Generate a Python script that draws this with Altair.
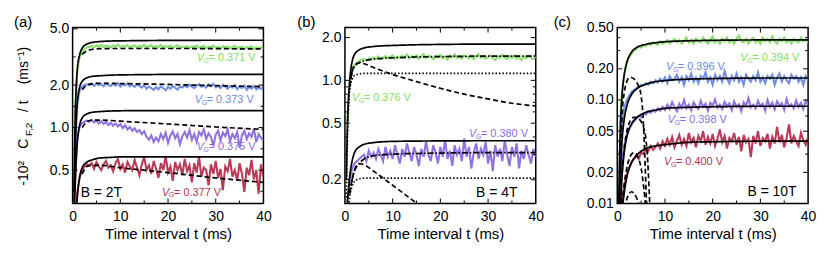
import altair as alt
import pandas as pd

W, H = 192, 177
FONT = "Liberation Sans"

GREEN = "#80de62"
BLUE = "#6b88e0"
PURPLE = "#8a6ce2"
RED = "#b5304f"

# time grids (ms)
TD = [0.5, 1.0, 1.5, 2.0, 2.5, 3.0, 3.5] + [4 + 0.5 * i for i in range(73)]
TF = [0.3, 0.5, 0.75, 1, 1.5, 2, 3, 4, 6, 8, 10, 15, 20, 30, 40]

# ---------------- panel (a) B = 2T ----------------
A_G = [1.2, 2.6, 3.2, 3.45, 3.6, 3.7, 3.72,
       3.78, 3.70, 3.82, 3.74, 3.85, 3.72, 3.80, 3.76, 3.69, 3.83,
       3.75, 3.88, 3.71, 3.79, 3.73, 3.84, 3.70, 3.77, 3.81, 3.68,
       3.79, 3.73, 3.86, 3.70, 3.76, 3.82, 3.67, 3.78, 3.72, 3.84,
       3.69, 3.77, 3.71, 3.80, 3.66, 3.75, 3.83, 3.70, 3.74, 3.68,
       3.79, 3.65, 3.76, 3.71, 3.81, 3.67, 3.73, 3.78, 3.64, 3.74,
       3.70, 3.80, 3.66, 3.72, 3.62, 3.77, 3.69, 3.75, 3.63, 3.71,
       3.78, 3.65, 3.70, 3.74, 3.61, 3.72, 3.67, 3.76, 3.62, 3.69,
       3.64, 3.71, 3.60]
A_B = [0.7, 1.5, 1.85, 1.95, 2.0, 2.02, 2.0,
       2.04, 1.97, 2.06, 1.99, 2.03, 1.96, 2.05, 2.0, 1.97, 2.04,
       1.98, 2.06, 1.95, 2.02, 1.99, 2.05, 1.96, 2.01, 1.94, 2.03,
       1.97, 1.92, 2.0, 1.88, 1.95, 1.9, 1.85, 1.93, 1.87, 1.96,
       1.9, 1.84, 1.94, 1.88, 1.97, 1.91, 1.86, 1.95, 1.92, 1.99,
       1.93, 2.01, 1.95, 1.9, 1.98, 2.03, 1.94, 1.99, 1.92, 2.02,
       1.96, 2.04, 1.93, 1.98, 1.9, 2.01, 1.95, 1.88, 1.97, 1.92,
       2.0, 1.87, 1.95, 1.91, 1.98, 1.85, 1.94, 1.89, 1.97, 1.86,
       1.93, 1.88, 1.95]
A_P = [0.4, 0.85, 1.02, 1.08, 1.1, 1.12, 1.1,
       1.13, 1.09, 1.12, 1.07, 1.11, 1.06, 1.1, 1.04, 1.08, 1.03,
       1.07, 1.02, 1.06, 0.99, 1.04, 0.97, 1.01, 0.95, 0.99, 0.93,
       0.96, 0.9, 0.94, 0.86, 0.82, 0.88, 0.79, 0.85, 0.8, 0.9,
       0.83, 0.92, 0.78, 0.88, 0.94, 0.84, 0.9, 0.76, 0.87, 0.93,
       0.85, 0.96, 0.82, 0.9, 0.79, 0.93, 0.88, 0.97, 0.83, 0.91,
       0.86, 0.74, 0.89, 0.95, 0.81, 0.92, 0.87, 0.97, 0.8, 0.9,
       0.84, 0.93, 0.72, 0.88, 0.95, 0.83, 0.91, 0.86, 0.98, 0.79,
       0.9, 0.85, 0.8]
A_R = [0.2, 0.35, 0.45, 0.5, 0.53, 0.55, 0.54,
       0.56, 0.51, 0.57, 0.53, 0.5, 0.55, 0.58, 0.52, 0.54, 0.49,
       0.56, 0.6, 0.51, 0.55, 0.48, 0.57, 0.53, 0.5, 0.59, 0.52,
       0.46, 0.55, 0.62, 0.5, 0.54, 0.47, 0.58, 0.51, 0.44, 0.56,
       0.5, 0.63, 0.48, 0.53, 0.42, 0.57, 0.5, 0.55, 0.46, 0.6,
       0.49, 0.54, 0.41, 0.56, 0.48, 0.62, 0.45, 0.52, 0.5, 0.39,
       0.55, 0.47, 0.58, 0.44, 0.51, 0.36, 0.53, 0.49, 0.6, 0.45,
       0.5, 0.42, 0.56, 0.47, 0.35, 0.52, 0.46, 0.59, 0.43, 0.5,
       0.34, 0.55, 0.45]
A_SOLID_G = [0.35, 1.0, 1.9, 2.6, 3.3, 3.65, 3.9, 4.0, 4.07, 4.1, 4.11, 4.13, 4.14, 4.15, 4.15]
A_SOLID_B = [0.30, 0.6, 1.1, 1.5, 1.95, 2.12, 2.25, 2.3, 2.33, 2.35, 2.36, 2.37, 2.38, 2.38, 2.38]
A_SOLID_P = [0.2, 0.35, 0.6, 0.8, 1.05, 1.17, 1.25, 1.28, 1.3, 1.31, 1.315, 1.32, 1.32, 1.32, 1.32]
A_SOLID_R = [0.1, 0.15, 0.25, 0.33, 0.45, 0.52, 0.57, 0.59, 0.61, 0.615, 0.62, 0.62, 0.62, 0.62, 0.62]
TDA = [2, 3, 4, 6, 10, 20, 30, 40]
A_DASH_G = [3.3, 3.5, 3.57, 3.62, 3.63, 3.63, 3.62, 3.6]
A_DASH_B = [1.85, 2.0, 2.04, 2.06, 2.05, 2.02, 1.98, 1.95]
A_DASH_P = [1.0, 1.1, 1.13, 1.13, 1.11, 1.06, 1.01, 0.97]
A_DASH_R = [0.47, 0.53, 0.54, 0.54, 0.52, 0.48, 0.44, 0.41]

# ---------------- panel (b) B = 4T ----------------
B_G = [0.5, 0.95, 1.15, 1.27, 1.33, 1.37, 1.39,
       1.41, 1.38, 1.43, 1.4, 1.45, 1.42, 1.47, 1.41, 1.44, 1.48,
       1.43, 1.46, 1.5, 1.42, 1.47, 1.44, 1.49, 1.45, 1.52, 1.43,
       1.48, 1.45, 1.5, 1.42, 1.47, 1.53, 1.44, 1.49, 1.46, 1.41,
       1.48, 1.45, 1.51, 1.43, 1.47, 1.4, 1.49, 1.45, 1.52, 1.44,
       1.47, 1.42, 1.5, 1.46, 1.43, 1.49, 1.41, 1.47, 1.53, 1.44,
       1.48, 1.42, 1.46, 1.5, 1.43, 1.39, 1.47, 1.44, 1.51, 1.45,
       1.41, 1.48, 1.44, 1.5, 1.42, 1.46, 1.39, 1.47, 1.43, 1.49,
       1.44, 1.41, 1.47]
B_P = [0.14, 0.2, 0.24, 0.26, 0.27, 0.28, 0.29,
       0.3, 0.27, 0.32, 0.29, 0.31, 0.28, 0.33, 0.3, 0.27, 0.34,
       0.29, 0.32, 0.28, 0.35, 0.3, 0.26, 0.33, 0.29, 0.36, 0.31,
       0.27, 0.34, 0.3, 0.25, 0.33, 0.29, 0.37, 0.3, 0.27, 0.35,
       0.31, 0.26, 0.34, 0.29, 0.38, 0.28, 0.32, 0.25, 0.35, 0.3,
       0.33, 0.27, 0.39, 0.29, 0.34, 0.24, 0.31, 0.36, 0.28, 0.33,
       0.3, 0.37, 0.26, 0.32, 0.23, 0.35, 0.29, 0.33, 0.27, 0.38,
       0.3, 0.25, 0.34, 0.29, 0.36, 0.24, 0.32, 0.28, 0.35, 0.3,
       0.26, 0.33, 0.29]
B_SOLID_G = [0.2, 0.45, 0.75, 1.0, 1.35, 1.52, 1.64, 1.69, 1.73, 1.75, 1.76, 1.78, 1.79, 1.8, 1.8]
B_DOT_G = [0.15, 0.35, 0.65, 0.85, 1.02, 1.08, 1.11, 1.12, 1.12, 1.12, 1.12, 1.12, 1.12, 1.12, 1.12]
B_SOLID_P = [0.08, 0.13, 0.17, 0.21, 0.27, 0.31, 0.34, 0.355, 0.365, 0.37, 0.372, 0.374, 0.375, 0.376, 0.376]
B_DOT_P = [0.05, 0.09, 0.12, 0.15, 0.18, 0.195, 0.203, 0.205, 0.205, 0.205, 0.205, 0.205, 0.205, 0.205, 0.205]
TBD = [1, 1.5, 2, 3, 4, 6, 8, 10, 15, 20, 30, 40]
B_DD_G = [0.9, 1.15, 1.25, 1.33, 1.37, 1.41, 1.43, 1.44, 1.46, 1.47, 1.48, 1.48]
B_DD_P = [0.16, 0.2, 0.23, 0.26, 0.28, 0.295, 0.3, 0.303, 0.306, 0.308, 0.31, 0.31]
TBX_G = [1, 1.5, 2, 3, 4, 6, 10, 15, 20, 25, 30, 35, 40]
B_DEC_G = [0.9, 1.15, 1.28, 1.33, 1.31, 1.23, 1.1, 0.98, 0.88, 0.8, 0.74, 0.69, 0.66]
TBX_P = [1, 1.5, 2, 3, 4, 6, 8, 10, 12, 14, 16]
B_DEC_P = [0.16, 0.2, 0.235, 0.26, 0.255, 0.23, 0.205, 0.183, 0.163, 0.145, 0.13]

# ---------------- panel (c) B = 10T ----------------
C_G = [0.05, 0.12, 0.18, 0.23, 0.26, 0.28, 0.3,
       0.31, 0.33, 0.32, 0.34, 0.33, 0.35, 0.34, 0.36, 0.35, 0.34,
       0.37, 0.35, 0.36, 0.38, 0.35, 0.37, 0.39, 0.36, 0.38, 0.35,
       0.37, 0.4, 0.36, 0.38, 0.35, 0.39, 0.37, 0.36, 0.4, 0.37,
       0.35, 0.38, 0.41, 0.36, 0.38, 0.35, 0.39, 0.37, 0.4, 0.36,
       0.38, 0.35, 0.39, 0.42, 0.37, 0.36, 0.39, 0.35, 0.38, 0.4,
       0.36, 0.38, 0.35, 0.4, 0.37, 0.39, 0.36, 0.41, 0.37, 0.35,
       0.39, 0.37, 0.4, 0.36, 0.38, 0.35, 0.39, 0.37, 0.36, 0.4,
       0.37, 0.38, 0.36]
C_B = [0.03, 0.06, 0.085, 0.1, 0.11, 0.12, 0.125,
       0.13, 0.135, 0.14, 0.138, 0.145, 0.14, 0.15, 0.145, 0.155, 0.148,
       0.16, 0.15, 0.165, 0.145, 0.17, 0.155, 0.16, 0.175, 0.15, 0.165,
       0.14, 0.17, 0.155, 0.18, 0.15, 0.165, 0.145, 0.17, 0.16, 0.185,
       0.15, 0.165, 0.14, 0.175, 0.155, 0.17, 0.15, 0.19, 0.16, 0.145,
       0.17, 0.155, 0.18, 0.15, 0.165, 0.14, 0.175, 0.16, 0.15, 0.17,
       0.155, 0.185, 0.15, 0.165, 0.145, 0.17, 0.16, 0.175, 0.14, 0.165,
       0.18, 0.15, 0.17, 0.155, 0.145, 0.175, 0.16, 0.17, 0.15, 0.165,
       0.14, 0.17, 0.155]
C_P = [0.012, 0.025, 0.037, 0.045, 0.052, 0.058, 0.062,
       0.066, 0.07, 0.068, 0.074, 0.072, 0.078, 0.075, 0.08, 0.077, 0.083,
       0.079, 0.086, 0.08, 0.09, 0.082, 0.095, 0.085, 0.078, 0.092, 0.084,
       0.1, 0.083, 0.09, 0.08, 0.095, 0.087, 0.082, 0.098, 0.086, 0.092,
       0.079, 0.094, 0.088, 0.101, 0.084, 0.09, 0.082, 0.096, 0.087, 0.093,
       0.08, 0.097, 0.086, 0.091, 0.078, 0.095, 0.088, 0.104, 0.085, 0.09,
       0.083, 0.098, 0.087, 0.092, 0.079, 0.1, 0.086, 0.094, 0.081, 0.097,
       0.088, 0.093, 0.08, 0.102, 0.087, 0.091, 0.083, 0.099, 0.086, 0.094,
       0.082, 0.098, 0.09]
C_R = [0.008, 0.011, 0.015, 0.019, 0.022, 0.025, 0.027,
       0.029, 0.027, 0.031, 0.03, 0.034, 0.032, 0.036, 0.033, 0.035, 0.038,
       0.034, 0.04, 0.036, 0.042, 0.037, 0.044, 0.035, 0.04, 0.046, 0.037,
       0.042, 0.036, 0.048, 0.039, 0.043, 0.035, 0.045, 0.04, 0.05, 0.037,
       0.044, 0.038, 0.047, 0.036, 0.042, 0.052, 0.039, 0.045, 0.034, 0.043,
       0.04, 0.048, 0.037, 0.044, 0.032, 0.046, 0.039, 0.042, 0.028, 0.045,
       0.038, 0.05, 0.036, 0.043, 0.04, 0.047, 0.034, 0.044, 0.038, 0.055,
       0.039, 0.046, 0.035, 0.043, 0.058, 0.038, 0.045, 0.04, 0.036, 0.048,
       0.041, 0.037, 0.044]
C_SOLID_G = [0.01, 0.03, 0.07, 0.11, 0.18, 0.23, 0.29, 0.32, 0.345, 0.357, 0.365, 0.373, 0.377, 0.38, 0.38]
C_SOLID_B = [0.005, 0.012, 0.025, 0.04, 0.067, 0.087, 0.113, 0.127, 0.142, 0.15, 0.154, 0.159, 0.161, 0.163, 0.163]
C_SOLID_P = [0.003, 0.006, 0.011, 0.018, 0.032, 0.044, 0.059, 0.067, 0.076, 0.08, 0.083, 0.085, 0.086, 0.087, 0.087]
C_SOLID_R = [0.001, 0.003, 0.005, 0.008, 0.013, 0.018, 0.025, 0.029, 0.034, 0.036, 0.037, 0.039, 0.0395, 0.04, 0.04]
TC1 = [0.7, 1.0, 1.5, 2.0, 2.5, 3.0, 3.5, 4.0, 4.5, 5.0, 5.4, 5.7, 6.0, 6.2]
C_DASH_1 = [0.03, 0.07, 0.12, 0.15, 0.165, 0.165, 0.16, 0.15, 0.135, 0.11, 0.07, 0.035, 0.015, 0.008]
TC2 = [1.0, 1.5, 2.0, 2.5, 3.0, 3.5, 4.0, 4.5, 5.0, 5.5, 6.0, 6.4, 6.7, 6.9]
C_DASH_2 = [0.02, 0.035, 0.05, 0.06, 0.066, 0.068, 0.068, 0.066, 0.062, 0.055, 0.042, 0.025, 0.013, 0.008]
TC3 = [1.0, 1.5, 2.0, 2.5, 3.0, 3.5, 4.0, 4.5, 5.0, 5.5, 6.0]
C_DASH_3 = [0.01, 0.016, 0.022, 0.027, 0.03, 0.031, 0.03, 0.027, 0.022, 0.015, 0.009]
TC4 = [1.5, 2.0, 2.5, 3.0, 3.5, 4.0, 4.5, 5.0]
C_DASH_4 = [0.009, 0.011, 0.0125, 0.013, 0.0125, 0.0115, 0.01, 0.008]

DASHES = {"solid": [1, 0], "dashed": [5, 3], "dotted": [1.5, 2], "dashdot": [6, 2, 1.5, 2]}


def panel(letter, ydom, ymajor, yminor, yfmt, traces, fits, labels, btext, bpos, ytitle=False):
    xsc = alt.Scale(domain=[0, 40], nice=False, zero=False)
    ysc = alt.Scale(type="log", domain=ydom, nice=False)
    xax = alt.Axis(values=[0, 10, 20, 30, 40], format="d", title="Time interval t (ms)",
                   labelFlush=False, labelOverlap=False)
    yax = alt.Axis(values=ymajor, format=yfmt, title=None, labelFlush=False, labelOverlap=False)

    def X(f):
        return alt.X(f, scale=xsc, axis=xax)

    def Y(f):
        return alt.Y(f, scale=ysc, axis=yax)

    rows = []
    for name, color, vals in traces:
        for t, v in zip(TD, vals):
            rows.append({"t": t, "v": v, "s": name})
    df = pd.DataFrame(rows)
    names = [tr[0] for tr in traces]
    cols = [tr[1] for tr in traces]
    layers = [
        alt.Chart(df).mark_line(strokeWidth=2.1, clip=True, opacity=0.95).encode(
            x=X("t:Q"), y=Y("v:Q"),
            color=alt.Color("s:N", scale=alt.Scale(domain=names, range=cols), legend=None),
        )
    ]
    for style in ["solid", "dashed", "dotted", "dashdot"]:
        frows = []
        for i, (st, ts, vs) in enumerate(fits):
            if st != style:
                continue
            for t, v in zip(ts, vs):
                frows.append({"t": t, "v": v, "c": i})
        if not frows:
            continue
        layers.append(
            alt.Chart(pd.DataFrame(frows)).mark_line(
                color="black", strokeWidth=1.7, clip=True, interpolate="monotone",
                strokeDash=DASHES[style]).encode(x=X("t:Q"), y=Y("v:Q"), detail="c:N")
        )
    # inward ticks
    for vals, ln in ((ymajor, 5), (yminor, 3)):
        d = pd.DataFrame({"v": [v for v in vals if ydom[0] <= v <= ydom[1]]})
        for x0, x1 in ((0, ln), (W, W - ln)):
            layers.append(alt.Chart(d).mark_rule(color="black", strokeWidth=1).encode(
                y=Y("v:Q"), x=alt.value(x0), x2=alt.value(x1)))
    for vals, ln in (([10, 20, 30], 5), ([5, 15, 25, 35], 3)):
        d = pd.DataFrame({"v": vals})
        for y0, y1 in ((H, H - ln), (0, ln)):
            layers.append(alt.Chart(d).mark_rule(color="black", strokeWidth=1).encode(
                x=X("v:Q"), y=alt.value(y0), y2=alt.value(y1)))
    # V_G labels
    lab = pd.DataFrame(labels, columns=["t", "v", "col", "txt"])
    enc = dict(x=X("t:Q"), y=Y("v:Q"), color=alt.Color("col:N", scale=None))
    layers.append(alt.Chart(lab).mark_text(text="V", font=FONT, fontSize=11, fontStyle="italic",
                                           align="left", baseline="middle").encode(**enc))
    layers.append(alt.Chart(lab).mark_text(text="G", font=FONT, fontSize=7, align="left",
                                           baseline="middle", dx=7, dy=3).encode(**enc))
    layers.append(alt.Chart(lab).mark_text(font=FONT, fontSize=11, align="left",
                                           baseline="middle", dx=12).encode(text="txt:N", **enc))
    # B = ... text
    bdf = pd.DataFrame({"t": [bpos[0]], "v": [bpos[1]], "txt": [btext]})
    layers.append(alt.Chart(bdf).mark_text(font=FONT, fontSize=14, align="left", baseline="middle",
                                           color="black").encode(x=X("t:Q"), y=Y("v:Q"), text="txt:N"))
    one = alt.Data(values=[{"k": 0}])
    layers.append(alt.Chart(one).mark_text(text=letter[0], font=FONT, fontSize=15, align="left",
                                           baseline="middle", color="black").encode(
        x=alt.value(letter[1]), y=alt.value(-6)))
    if ytitle:
        parts = [("-10\u00b2", 14, -49, 159), ("C", 14, -49, 122), ("F,2", 10, -44, 109),
                 ("/ t", 14, -49, 85), ("(ms\u207b\u00b9)", 14, -49, 57)]
        for txt, fs, px, py in parts:
            layers.append(alt.Chart(one).mark_text(text=txt, font=FONT, fontSize=fs, angle=270,
                                                   align="left", baseline="middle", color="black").encode(
                x=alt.value(px), y=alt.value(py)))
    return alt.layer(*layers).properties(width=W, height=H)


pa = panel(("(a)", -59), [0.29, 5.1], [0.5, 1.0, 2.0, 5.0], [0.354, 0.707, 1.414, 3.162], ".1f",
           [("g", GREEN, A_G), ("b", BLUE, A_B), ("p", PURPLE, A_P), ("r", RED, A_R)],
           [("solid", TF, A_SOLID_G), ("solid", TF, A_SOLID_B), ("solid", TF, A_SOLID_P),
            ("solid", TF, A_SOLID_R),
            ("dashed", TDA, A_DASH_G), ("dashed", TDA, A_DASH_B), ("dashed", TDA, A_DASH_P),
            ("dashed", TDA, A_DASH_R)],
           [(26.0, 3.1, GREEN, "= 0.371 V"), (25.6, 1.57, BLUE, "= 0.373 V"),
            (26.0, 0.726, PURPLE, "= 0.375 V"), (18.75, 0.347, RED, "= 0.377 V")],
           "B = 2T", (1.7, 0.347), ytitle=True)

pb = panel(("(b)", -48), [0.136, 2.35], [0.2, 0.5, 1.0, 2.0], [0.3, 0.4, 0.6, 0.7, 0.8, 0.9], ".1f",
           [("g", GREEN, B_G), ("p", PURPLE, B_P)],
           [("solid", TF, B_SOLID_G), ("solid", TF, B_SOLID_P),
            ("dotted", TF, B_DOT_G), ("dotted", TF, B_DOT_P),
            ("dashdot", TBD, B_DD_G), ("dashdot", TBD, B_DD_P),
            ("dashed", TBX_G, B_DEC_G), ("dashed", TBX_P, B_DEC_P)],
           [(1.46, 0.75, GREEN, "= 0.376 V"), (26.0, 0.418, PURPLE, "= 0.380 V")],
           "B = 4T", (27.5, 0.162))

pc = panel(("(c)", -64), [0.01, 0.5], [0.01, 0.02, 0.05, 0.1, 0.2, 0.5], [0.03, 0.04, 0.07, 0.3, 0.4], ".2f",
           [("g", GREEN, C_G), ("b", BLUE, C_B), ("p", PURPLE, C_P), ("r", RED, C_R)],
           [("solid", TF, C_SOLID_G), ("solid", TF, C_SOLID_B), ("solid", TF, C_SOLID_P),
            ("solid", TF, C_SOLID_R),
            ("dashed", TC1, C_DASH_1), ("dashed", TC2, C_DASH_2), ("dashed", TC3, C_DASH_3),
            ("dashed", TC4, C_DASH_4)],
           [(25.8, 0.257, GREEN, "= 0.394 V"), (10.2, 0.206, BLUE, "= 0.396 V"),
            (10.6, 0.064, PURPLE, "= 0.398 V"), (9.8, 0.0252, RED, "= 0.400 V")],
           "B = 10T", (27.3, 0.013))

chart = alt.hconcat(pa, pb, pc, spacing=82, bounds="flush", padding=5).configure_view(
    stroke="black", strokeWidth=1.5
).configure_axis(
    labelFont=FONT, titleFont=FONT, labelFontSize=14, titleFontSize=15, labelColor="black",
    titleColor="black", titleFontWeight="normal", domain=False, ticks=False, tickSize=0, grid=False
).configure_axisX(labelPadding=6, titlePadding=3).configure_axisY(labelPadding=4)

chart.save("out.html", embed_options={"renderer": "svg", "actions": False})
